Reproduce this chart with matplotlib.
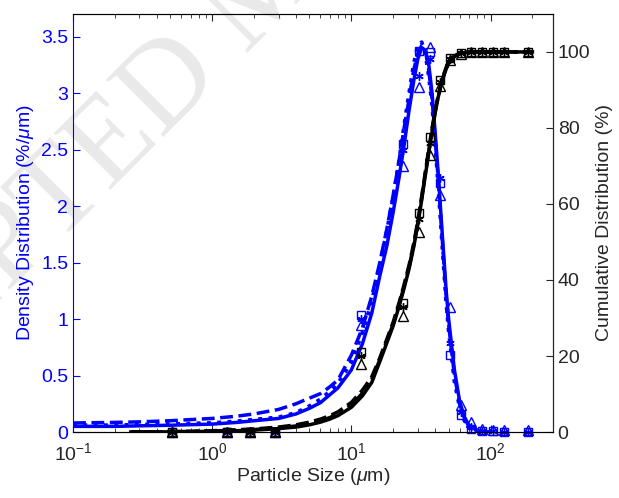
import numpy as np
import matplotlib.pyplot as plt
from matplotlib.ticker import FuncFormatter, LogLocator

plt.rcParams['font.family'] = ['Liberation Sans', 'DejaVu Sans']
plt.rcParams['mathtext.fontset'] = 'custom'
plt.rcParams['mathtext.rm'] = 'Liberation Sans'
plt.rcParams['mathtext.it'] = 'Liberation Sans:italic'

# fitted density curves (%/um)
x_fit = [0.1, 0.2, 0.3, 0.5, 0.7, 1, 1.5, 2, 3, 4, 5, 6, 7, 8, 10, 12, 14, 16, 18, 20,
         22, 24, 26, 28, 30, 32, 34, 36, 38, 40, 42, 45, 48, 50, 55, 60, 65, 70, 80, 90, 100]
dens_fit1 = [0.05, 0.05, 0.055, 0.06, 0.065, 0.07, 0.085, 0.1, 0.12, 0.16, 0.21, 0.26, 0.33, 0.39,
             0.55, 0.78, 1.05, 1.38, 1.65, 1.95, 2.25, 2.55, 2.85, 3.1, 3.3, 3.4, 3.38, 3.25,
             3.0, 2.65, 2.3, 1.75, 1.25, 1.0, 0.55, 0.27, 0.13, 0.06, 0.015, 0.005, 0.0]
dens_fit2 = [0.08, 0.085, 0.09, 0.1, 0.11, 0.12, 0.14, 0.16, 0.2, 0.25, 0.3, 0.34, 0.4, 0.46,
             0.68, 0.92, 1.2, 1.5, 1.8, 2.1, 2.4, 2.7, 2.95, 3.2, 3.35, 3.42, 3.38, 3.2,
             2.95, 2.6, 2.25, 1.7, 1.2, 0.95, 0.5, 0.25, 0.12, 0.05, 0.01, 0.0, 0.0]
dens_fit3 = [0.06, 0.06, 0.065, 0.07, 0.075, 0.08, 0.095, 0.11, 0.13, 0.17, 0.23, 0.29, 0.36, 0.43,
             0.62, 0.88, 1.15, 1.48, 1.78, 2.08, 2.4, 2.72, 3.0, 3.25, 3.42, 3.45, 3.35, 3.15,
             2.9, 2.55, 2.2, 1.65, 1.15, 0.9, 0.45, 0.22, 0.1, 0.04, 0.01, 0.0, 0.0]

# fitted cumulative curves (%)
x_cum = [0.26, 0.5, 0.7, 1, 1.5, 2, 3, 4, 5, 6, 7, 8, 10, 12, 14, 16, 18, 20, 22, 24, 26, 28,
         30, 32, 34, 36, 38, 40, 42, 45, 48, 50, 55, 60, 65, 70, 80, 100, 150, 200]
cum_fit1 = [0, 0.05, 0.1, 0.2, 0.35, 0.5, 0.9, 1.3, 1.9, 2.6, 3.4, 4.3, 6.5, 9.5, 13, 18.5, 23.5,
            28, 33, 38, 43, 48.5, 54.5, 61, 67.5, 73.5, 79, 84, 88, 92.5, 95.5, 97, 98.8, 99.5,
            99.8, 100, 100, 100, 100, 100]
cum_fit2 = [0, 0.1, 0.2, 0.35, 0.6, 0.8, 1.3, 1.9, 2.6, 3.4, 4.3, 5.3, 7.8, 11, 14.5, 19.5, 24.5,
            29, 34, 39, 44, 49.5, 55.5, 62, 68.5, 74.5, 80, 84.5, 88.5, 93, 96, 97.3, 99, 99.6,
            99.9, 100, 100, 100, 100, 100]
cum_fit3 = [0, 0.07, 0.15, 0.28, 0.45, 0.65, 1.1, 1.6, 2.2, 3.0, 3.8, 4.8, 7.1, 10.2, 13.8, 19, 24,
            28.5, 33.5, 38.5, 43.5, 49, 55, 61.5, 68, 74, 79.5, 84.2, 88.2, 92.7, 95.7, 97.1, 98.9,
            99.5, 99.8, 100, 100, 100, 100, 100]

# measured points
x_exp = [0.51, 1.28, 1.88, 2.84, 11.8, 23.5, 30.5, 36.5, 43.5, 51.5, 61, 72, 87, 105, 124, 187]
dens_sq = [0, 0, 0, 0, 1.04, 2.55, 3.37, 3.36, 2.2, 0.68, 0.15, 0.03, 0.01, 0.01, 0.0, 0.0]
dens_tri = [0, 0, 0, 0, 0.95, 2.35, 3.05, 3.41, 2.1, 1.11, 0.24, 0.09, 0.03, 0.02, 0.02, 0.02]
dens_ast = [0, 0, 0, 0, 1.0, 2.5, 3.15, 3.3, 2.25, 0.79, 0.18, 0.04, 0.01, 0.01, 0.0, 0.0]
cum_sq = [0, 0, 0, 0, 21, 34, 57.6, 77.6, 92.6, 98.4, 99.6, 100, 100, 100, 100, 100]
cum_tri = [0, 0, 0, 0, 18, 30.5, 52.6, 72.9, 91, 98, 99.5, 100, 100, 100, 100, 100]
cum_ast = [0, 0, 0, 0, 20, 33, 56, 76, 92, 98.2, 99.6, 100, 100, 100, 100, 100]

blue = '#0000ff'
fig = plt.figure(figsize=(6.19, 4.98), dpi=100)
fig.text(0.435, 1.02, 'ACCEPTED MANUSCRIPT', rotation=45, rotation_mode='anchor',
         ha='center', va='center', fontsize=88, family='Liberation Serif',
         color='#e9e9e9', zorder=-1)
ax = fig.add_axes([0.118, 0.1325, 0.775, 0.8395])
ax.set_facecolor('none')
ax2 = ax.twinx()

ax.plot(x_fit, dens_fit1, '-', color=blue, lw=2.5)
ax.plot(x_fit, dens_fit2, '--', color=blue, lw=2.5)
ax.plot(x_fit, dens_fit3, ':', color=blue, lw=2.8)
ax.plot(x_exp, dens_sq, 's', mfc='none', mec=blue, ms=6, mew=1, clip_on=False)
ax.plot(x_exp, dens_tri, '^', mfc='none', mec=blue, ms=7, mew=1, clip_on=False)
ax.plot(x_exp, dens_ast, ls='none', marker=(6, 2, 0), color=blue, ms=6, mew=1, clip_on=False)

ax2.plot(x_cum, cum_fit1, '-', color='k', lw=2.5)
ax2.plot(x_cum, cum_fit2, '--', color='k', lw=2.5)
ax2.plot(x_cum, cum_fit3, '-.', color='k', lw=2.5)
ax2.plot(x_exp, cum_sq, 's', mfc='none', mec='k', ms=6, mew=1, clip_on=False)
ax2.plot(x_exp, cum_tri, '^', mfc='none', mec='k', ms=7, mew=1, clip_on=False)
ax2.plot(x_exp, cum_ast, ls='none', marker=(6, 2, 0), color='k', ms=6, mew=1, clip_on=False)

ax.set_xscale('log')
ax.set_xlim(0.1, 280)
ax.set_ylim(0, 3.7)
ax2.set_ylim(0, 110)
ax.set_yticks(np.arange(0, 3.6, 0.5))
ax2.set_yticks(np.arange(0, 101, 20))
ax.yaxis.set_major_formatter(FuncFormatter(lambda v, p: '%g' % v))
ax.xaxis.set_major_locator(LogLocator(base=10, numticks=10))
ax.xaxis.set_minor_locator(LogLocator(base=10, subs=np.arange(2, 10), numticks=20))

ax.tick_params(axis='x', which='both', direction='in', top=True, labelsize=14,
               colors='#262626', pad=7)
ax.tick_params(axis='x', which='major', length=5)
ax.tick_params(axis='x', which='minor', length=3)
ax.tick_params(axis='y', direction='in', length=5, labelsize=14, colors=blue)
ax2.tick_params(axis='y', direction='in', length=5, labelsize=14, colors='#262626')

ax.spines['left'].set_color(blue)
ax.spines['bottom'].set_color('#262626')
ax.spines['top'].set_color('#262626')
ax2.spines['left'].set_visible(False)
ax2.spines['right'].set_color('#262626')
for s in ax.spines.values():
    s.set_linewidth(0.8)
ax2.spines['right'].set_linewidth(0.8)

ax.set_xlabel(r'Particle Size ($\mu$m)', fontsize=14, color='#262626', labelpad=2)
ax.set_ylabel(r'Density Distribution (%/$\mu$m)', fontsize=14, color=blue)
ax2.set_ylabel('Cumulative Distribution (%)', fontsize=14, color='#262626')

fig.savefig('out.png', dpi=100)
